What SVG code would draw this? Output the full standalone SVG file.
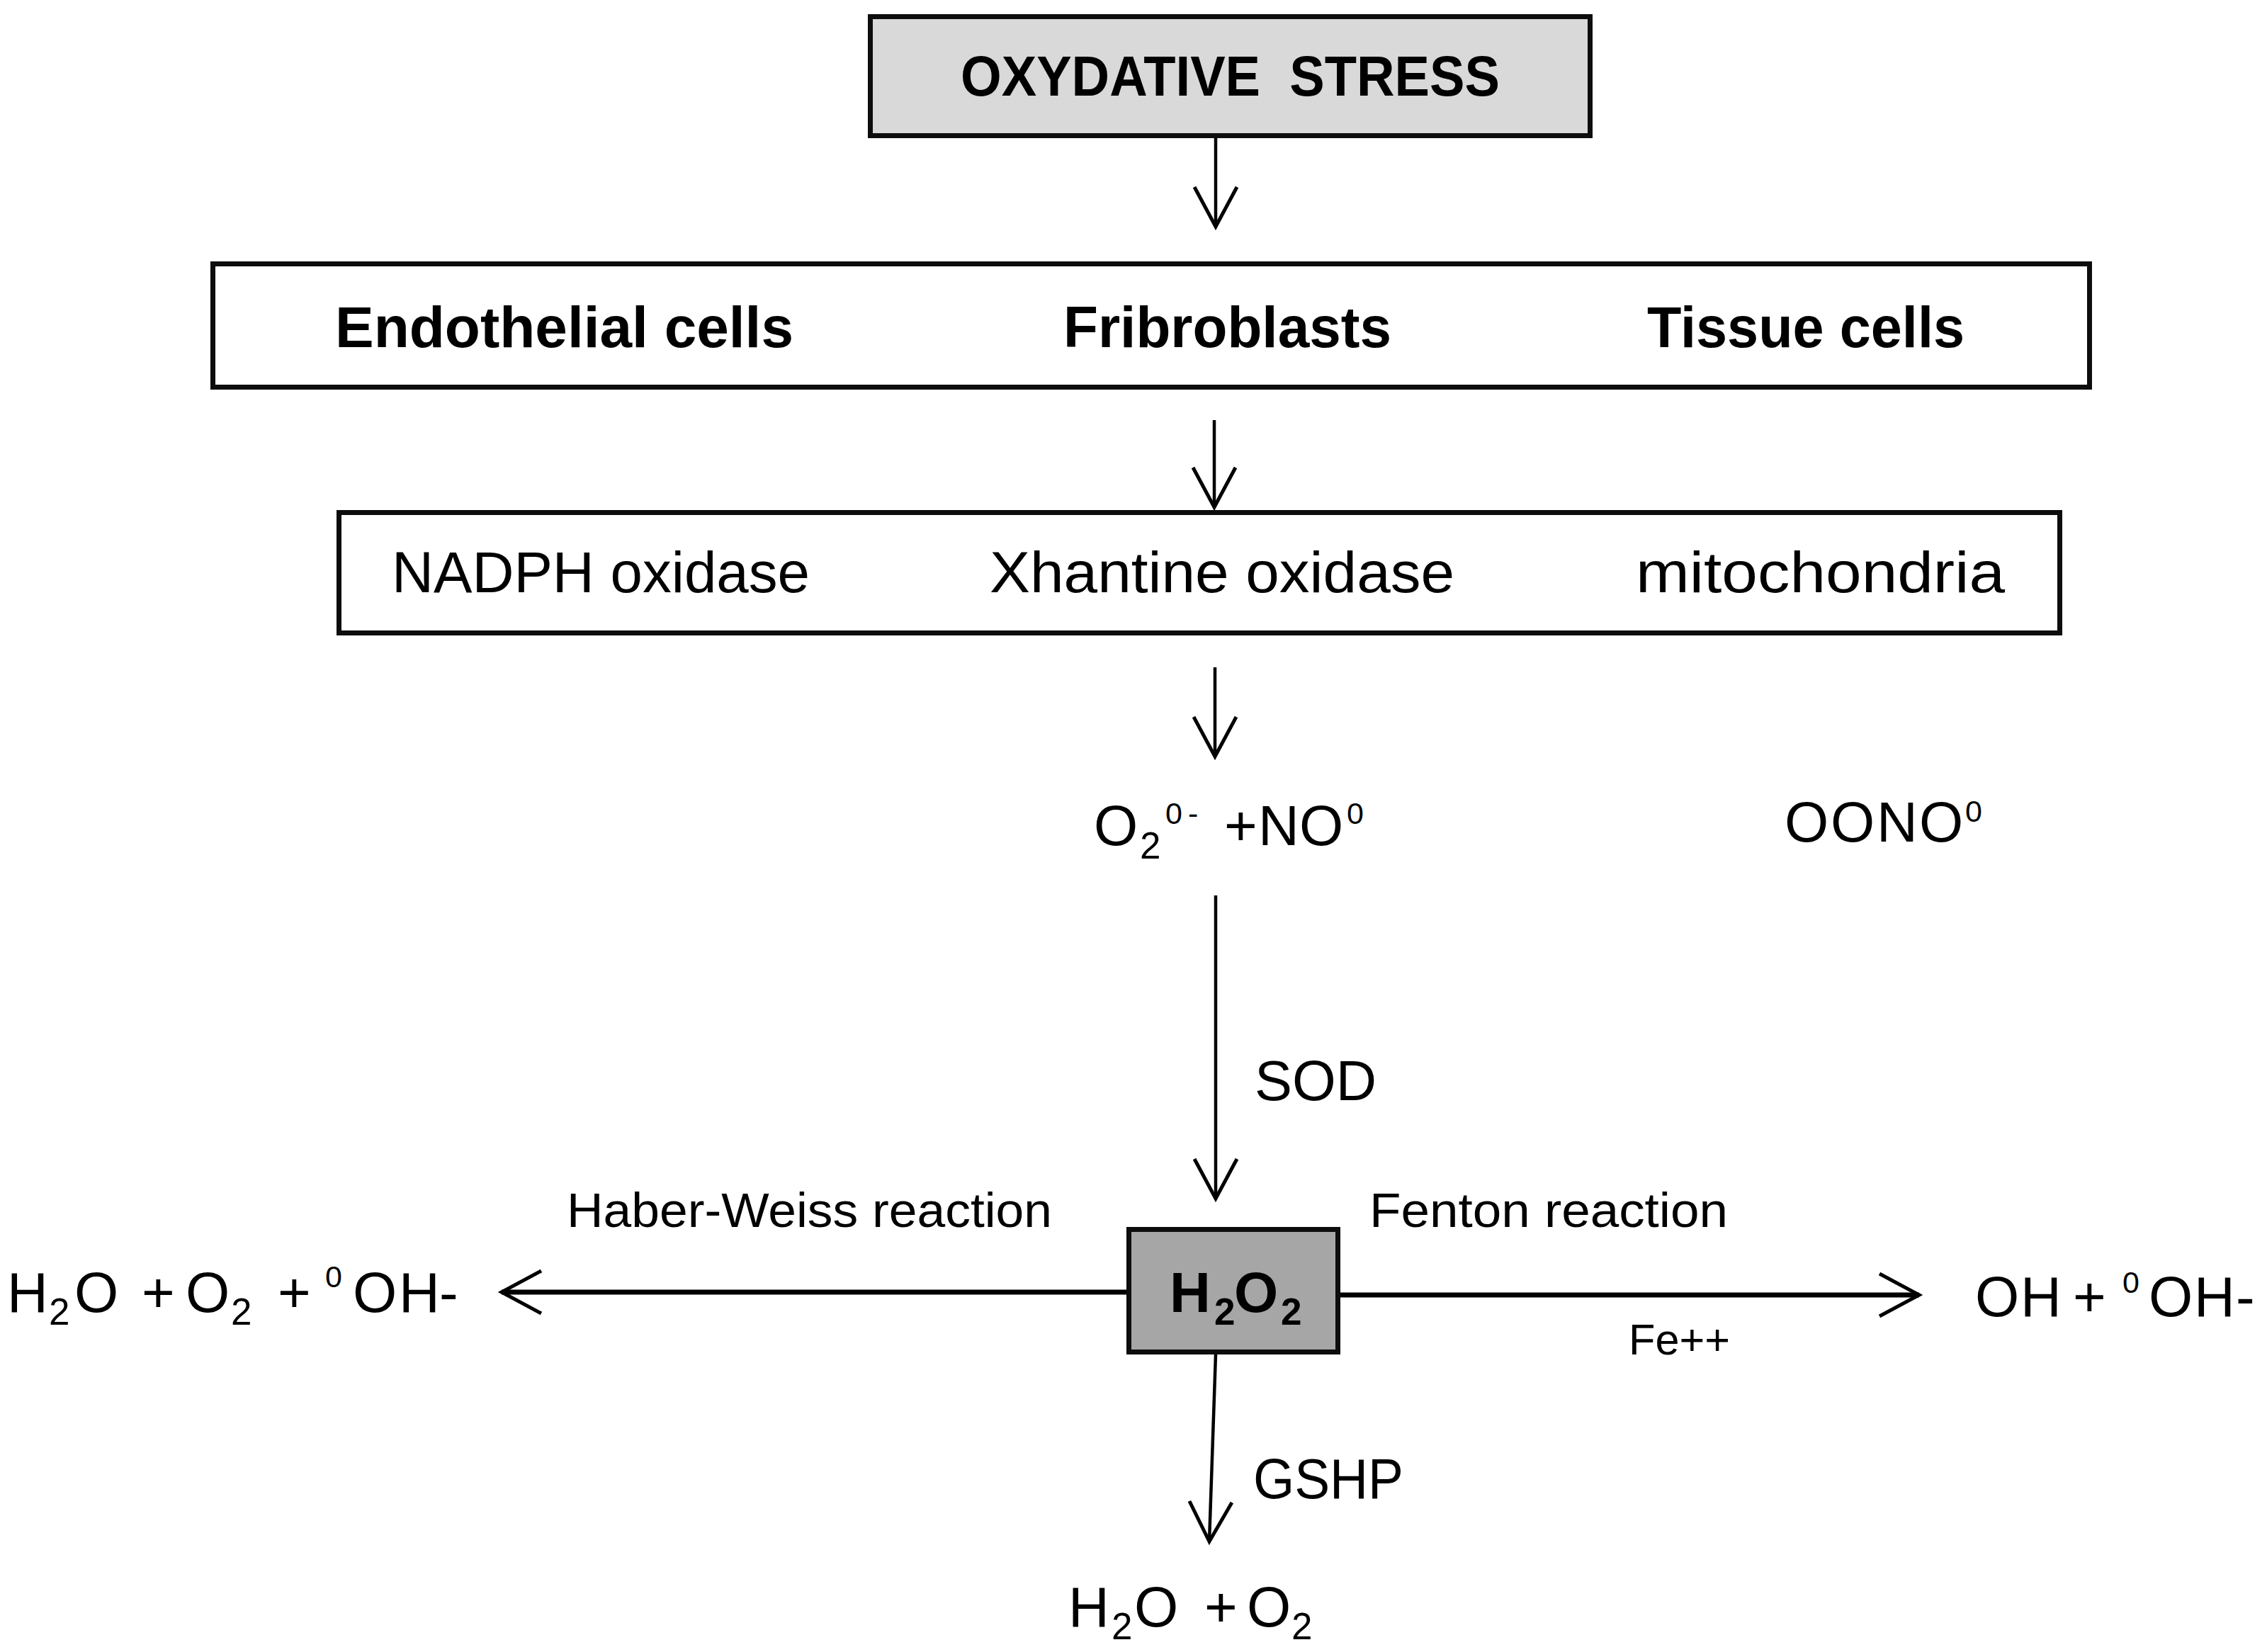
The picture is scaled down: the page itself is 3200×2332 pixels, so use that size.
<svg xmlns="http://www.w3.org/2000/svg" width="3200" height="2332" viewBox="0 0 3200 2332">
<defs>
<style>
.box{stroke:#0d0d0d;stroke-width:7;}
.t{font-family:"Liberation Sans",Arial,sans-serif;fill:#000;}
.b{font-weight:bold;}
.m{font-size:82px;}
.c{font-size:80px;}
.s{font-size:68px;}
.sub{font-size:53px;}
.sup{font-size:43px;}
.ln{fill:none;stroke:#000;stroke-width:4.5;}
.lh{fill:none;stroke:#000;stroke-width:7;}
</style>
<marker id="ah" viewBox="-75 -40 90 80" refX="0" refY="0" markerWidth="90" markerHeight="80" markerUnits="userSpaceOnUse" orient="auto">
<path d="M-56,-30 L0,0 L-56,30" fill="none" stroke="#000" stroke-width="5"/>
</marker>
</defs>
<rect width="3200" height="2332" fill="#fff"/>

<g id="connectors">
<line class="ln" x1="1716" y1="195" x2="1716" y2="320" marker-end="url(#ah)"/>
<line class="ln" x1="1714" y1="593" x2="1714" y2="716" marker-end="url(#ah)"/>
<line class="ln" x1="1715" y1="942" x2="1715" y2="1068" marker-end="url(#ah)"/>
<line class="ln" x1="1716" y1="1264" x2="1716" y2="1692" marker-end="url(#ah)"/>
<line class="lh" x1="1592" y1="1824" x2="708" y2="1824" marker-end="url(#ah)"/>
<line class="lh" x1="1890" y1="1828" x2="2709" y2="1828" marker-end="url(#ah)"/>
<line class="ln" x1="1716" y1="1912" x2="1707" y2="2176" marker-end="url(#ah)"/>
</g>

<g id="oxidative-stress">
<rect class="box" x="1228.5" y="23.5" width="1016" height="168" fill="#d9d9d9"/>
<text class="t b" x="1356" y="135" font-size="80" textLength="761" lengthAdjust="spacingAndGlyphs">OXYDATIVE&#160; STRESS</text>
</g>

<g id="cells">
<rect class="box" x="300.5" y="372.5" width="2649" height="174" fill="#fff"/>
<text class="t b m" x="473" y="490" textLength="647" lengthAdjust="spacingAndGlyphs">Endothelial cells</text>
<text class="t b m" x="1501" y="490" textLength="463" lengthAdjust="spacingAndGlyphs">Fribroblasts</text>
<text class="t b m" x="2325" y="490" textLength="448" lengthAdjust="spacingAndGlyphs">Tissue cells</text>
</g>

<g id="sources">
<rect class="box" x="478.5" y="723.5" width="2429" height="170" fill="#fff"/>
<text class="t m" x="553" y="836" textLength="590" lengthAdjust="spacingAndGlyphs">NADPH oxidase</text>
<text class="t m" x="1397" y="836" textLength="656" lengthAdjust="spacingAndGlyphs">Xhantine oxidase</text>
<text class="t m" x="2309" y="836" textLength="521" lengthAdjust="spacingAndGlyphs">mitochondria</text>
</g>

<g id="superoxide">
<text class="t c" x="1544" y="1193">O</text>
<text class="t sub" x="1609" y="1212">2</text>
<text class="t sup" x="1645 1677" y="1163">0-</text>
<text class="t c" x="1728 1776 1834" y="1193">+NO</text>
<text class="t sup" x="1901" y="1163">0</text>
</g>

<g id="peroxynitrite">
<text class="t c" x="2519 2584 2649 2709" y="1188">OONO</text>
<text class="t sup" x="2774" y="1160">0</text>
</g>

<g id="sod-label">
<text class="t c" x="1771" y="1553" textLength="172" lengthAdjust="spacingAndGlyphs">SOD</text>
</g>

<g id="h2o2">
<rect class="box" x="1593.5" y="1735.5" width="295" height="173" fill="#a6a6a6"/>
<text class="t b" x="1651" y="1852" font-size="80">H</text>
<text class="t b sub" x="1714" y="1870">2</text>
<text class="t b" x="1742" y="1852" font-size="80">O</text>
<text class="t b sub" x="1808" y="1870">2</text>
</g>

<g id="haber-weiss">
<text class="t s" x="800" y="1732" textLength="685" lengthAdjust="spacingAndGlyphs">Haber-Weiss reaction</text>
</g>
<g id="fenton">
<text class="t s" x="1933" y="1732" textLength="506" lengthAdjust="spacingAndGlyphs">Fenton reaction</text>
<text class="t" x="2299" y="1912" font-size="61" textLength="143" lengthAdjust="spacingAndGlyphs">Fe++</text>
</g>

<g id="haber-weiss-products">
<text class="t c" x="10" y="1852">H</text>
<text class="t sub" x="69" y="1870">2</text>
<text class="t c" x="105" y="1852">O</text>
<text class="t c" x="200" y="1852">+</text>
<text class="t c" x="262" y="1852">O</text>
<text class="t sub" x="326" y="1870">2</text>
<text class="t c" x="392" y="1852">+</text>
<text class="t sup" x="459" y="1817">0</text>
<text class="t c" x="498 563 620" y="1852">OH-</text>
</g>

<g id="fenton-products">
<text class="t c" x="2788 2852" y="1858">OH</text>
<text class="t c" x="2926" y="1858">+</text>
<text class="t sup" x="2996" y="1825">0</text>
<text class="t c" x="3033 3097 3156" y="1858">OH-</text>
</g>

<g id="gshp-label">
<text class="t c" x="1769" y="2115" textLength="212" lengthAdjust="spacingAndGlyphs">GSHP</text>
</g>

<g id="water-oxygen">
<text class="t c" x="1508" y="2296">H</text>
<text class="t sub" x="1569" y="2314">2</text>
<text class="t c" x="1601" y="2296">O</text>
<text class="t c" x="1700" y="2296">+</text>
<text class="t c" x="1760" y="2296">O</text>
<text class="t sub" x="1823" y="2314">2</text>
</g>
</svg>
